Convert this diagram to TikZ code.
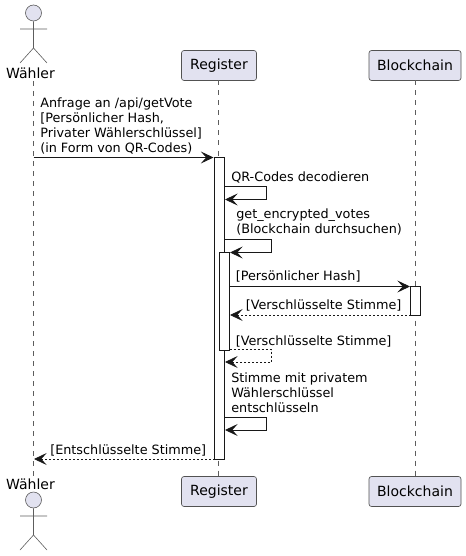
\documentclass[tikz,border=0pt]{standalone}
\usepackage{fontspec}
\setmainfont{DejaVu Sans}
\usetikzlibrary{arrows.meta}
\definecolor{partfill}{HTML}{E2E2F0}
\definecolor{ink}{HTML}{181818}
\tikzset{
  x=0.75pt,y=-0.75pt,
  partbox/.style={draw=ink!75,line width=0.5pt,fill=partfill,rounded corners=1.9pt,minimum height=22.5pt,inner sep=0pt,font=\fontsize{10.5}{12}\selectfont,text=black},
  actorname/.style={font=\fontsize{10.5}{12}\selectfont,text=black,inner sep=0pt},
  lifeline/.style={draw=ink!70,line width=0.4pt,dash pattern=on 3.75pt off 3.75pt},
  actorline/.style={draw=ink!70,line width=0.45pt},
  actorhead/.style={draw=ink!70,line width=0.45pt,fill=partfill,circle,minimum size=12pt,inner sep=0pt},
  activation/.style={draw=ink,line width=0.65pt,fill=white},
  msg/.style={draw=ink,line width=0.65pt,-{Stealth[length=9.5pt,width=9pt,inset=4pt,fill=ink]}},
  ret/.style={msg,line width=0.55pt,dash pattern=on 1.5pt off 1.5pt},
  label/.style={font=\fontsize{9.6}{11.25}\selectfont,text=black,inner sep=0pt,anchor=west,align=left},
}
\begin{document}
\begin{tikzpicture}
\useasboundingbox (0,0) rectangle (466,556);
% participants
\node[actorname] (w1) at (30.5,73) {Wähler};
\node[actorname] (w2) at (30.5,484) {Wähler};
\node[partbox,minimum width=56.25pt] (r1) at (219,65.5) {Register};
\node[partbox,minimum width=56.25pt] (r2) at (219,491.5) {Register};
\node[partbox,minimum width=69pt] (b1) at (415,65.5) {Blockchain};
\node[partbox,minimum width=69pt] (b2) at (415,491.5) {Blockchain};
% lifeline ends
\coordinate (w1l) at (33.5,81); \coordinate (w2l) at (33.5,476);
\coordinate (r1l) at (218.5,80.5); \coordinate (r2l) at (218.5,476.5);
\coordinate (b1l) at (415.5,80.5); \coordinate (b2l) at (415.5,476.5);
\draw[lifeline] (w1l) -- (w2l);
\draw[lifeline] (r1l) -- (r2l);
\draw[lifeline] (b1l) -- (b2l);
% actors
\node[actorhead] (h1) at (33.5,13) {};
\coordinate (n1) at (33.5,48); \coordinate (al1) at (20,29); \coordinate (ar1) at (47,29);
\coordinate (ll1) at (20,63); \coordinate (lr1) at (47,63);
\draw[actorline] (h1) -- (n1) (al1) -- (ar1) (ll1) -- (n1) -- (lr1);
\node[actorhead] (h2) at (33.5,500) {};
\coordinate (n2) at (33.5,535); \coordinate (al2) at (20,516); \coordinate (ar2) at (47,516);
\coordinate (ll2) at (20,550); \coordinate (lr2) at (47,550);
\draw[actorline] (h2) -- (n2) (al2) -- (ar2) (ll2) -- (n2) -- (lr2);
% activations
\draw[activation] (214.5,157.5) coordinate (a1tl) rectangle (224.5,459.5) coordinate (a1br);
\draw[activation] (219.5,252.5) coordinate (a2tl) rectangle (229.5,350.5) coordinate (a2br);
\draw[activation] (410.5,286.5) coordinate (a3tl) rectangle (420.5,315.5) coordinate (a3br);
% messages
\coordinate (m1a) at (33.5,157.5); \coordinate (m1b) at (213.5,157.5);
\draw[msg] (m1a) -- (m1b);
\node[label] (t1) at (40,126) {Anfrage an /api/getVote\\{}[Persönlicher Hash,\\Privater Wählerschlüssel]\\(in Form von QR-Codes)};

\coordinate (s1a) at (224.5,186.5); \coordinate (s1b) at (266.5,199.5); \coordinate (s1c) at (225,199.5);
\draw[msg] (s1a) -| (s1b) -- (s1c);
\node[label] (t2) at (231,177.5) {QR-Codes decodieren};

\coordinate (s2a) at (224.5,239.5); \coordinate (s2b) at (271.5,252.5); \coordinate (s2c) at (230,252.5);
\draw[msg] (s2a) -| (s2b) -- (s2c);
\node[label] (t3) at (236,222) {get\_encrypted\_votes\\(Blockchain durchsuchen)};

\coordinate (m2a) at (229.5,286.5); \coordinate (m2b) at (410,286.5);
\draw[msg] (m2a) -- (m2b);
\node[label] (t4) at (235.5,276.5) {[Persönlicher Hash]};

\coordinate (m3a) at (410.5,315); \coordinate (m3b) at (230,315);
\draw[ret] (m3a) -- (m3b);
\node[label] (t5) at (245.5,305.5) {[Verschlüsselte Stimme]};

\coordinate (s3a) at (229.5,349.5); \coordinate (s3b) at (271.5,362); \coordinate (s3c) at (225,362);
\draw[ret] (s3a) -| (s3b) -- (s3c);
\node[label] (t6) at (235.5,341) {[Verschlüsselte Stimme]};

\coordinate (s4a) at (224.5,417.5); \coordinate (s4b) at (266.5,430); \coordinate (s4c) at (225,430);
\draw[msg] (s4a) -| (s4b) -- (s4c);
\node[label] (t7) at (231,392.5) {Stimme mit privatem\\Wählerschlüssel\\entschlüsseln};

\coordinate (m4a) at (214.5,459); \coordinate (m4b) at (34,459);
\draw[ret] (m4a) -- (m4b);
\node[label] (t8) at (50,450) {[Entschlüsselte Stimme]};
\end{tikzpicture}
\end{document}
